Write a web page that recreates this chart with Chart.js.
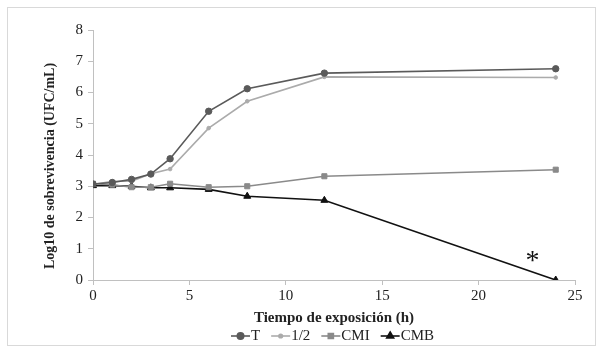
<!DOCTYPE html>
<html><head><meta charset="utf-8">
<script src="https://cdn.jsdelivr.net/npm/chart.js@4/dist/chart.umd.min.js"></script>
<style>html,body{margin:0;padding:0;background:#fff}#wrap{width:604px;height:355px}</style>
</head><body><div id="wrap"><canvas id="c" width="604" height="355"></canvas></div>
<script>
const hours = [0, 1, 2, 3, 4, 6, 8, 12, 24];
const seriesT   = [3.07, 3.12, 3.22, 3.39, 3.88, 5.40, 6.12, 6.62, 6.76];
const seriesHalf= [3.05, 3.16, 3.16, 3.40, 3.55, 4.86, 5.72, 6.50, 6.48];
const seriesCMI = [3.08, 3.05, 2.97, 2.97, 3.08, 2.97, 3.00, 3.32, 3.53];
const seriesCMB = [3.02, 3.02, 3.00, 2.95, 2.95, 2.90, 2.68, 2.55, 0.00];
const seriesNames = ['T', '1/2', 'CMI', 'CMB'];
const xTicks = [0, 5, 10, 15, 20, 25];
const yTicks = [0, 1, 2, 3, 4, 5, 6, 7, 8];
const asterisk = {x: 22.8, y: 0.72, text: '*'};
const yTitle = 'Log10 de sobrevivencia (UFC/mL)';

const FONT = "'Liberation Serif', 'Times New Roman', serif";
const styles = [
  {color:'#5a5a5a', point:'circle', r:3.2},
  {color:'#ababab', point:'circle', r:1.8},
  {color:'#8a8a8a', point:'rect', r:3.6},
  {color:'#111111', point:'triangle', r:4}
];
const values = [seriesT, seriesHalf, seriesCMI, seriesCMB];

const datasets = values.map((v,i)=>({
  label: seriesNames[i],
  data: hours.map((h,j)=>({x:h, y:v[j]})),
  borderColor: styles[i].color,
  backgroundColor: styles[i].color,
  pointStyle: styles[i].point,
  pointRadius: styles[i].r,
  pointBorderWidth: 1,
  borderWidth: 1.6,
  tension: 0
}));

const frame = {
  id:'frame',
  beforeDraw(chart){
    const ctx = chart.ctx;
    ctx.save();
    ctx.fillStyle='#fff';
    ctx.fillRect(0,0,chart.width,chart.height);
    ctx.strokeStyle='#d9d9d9';
    ctx.lineWidth=1;
    ctx.strokeRect(7.5,7.5,588,338);
    ctx.restore();
  },
  afterDraw(chart){
    const ctx = chart.ctx;
    const xs = chart.scales.x, ys = chart.scales.y;
    ctx.save();
    // y axis title
    ctx.fillStyle='#222';
    ctx.font = "bold 14px " + FONT;
    ctx.textAlign='center'; ctx.textBaseline='middle';
    ctx.translate(50, 166);
    ctx.rotate(-Math.PI/2);
    ctx.fillText(yTitle, 0, 0);
    ctx.restore();
    ctx.save();
    // asterisk
    ctx.fillStyle='#111';
    ctx.font = "28px " + FONT;
    ctx.textAlign='center'; ctx.textBaseline='middle';
    ctx.fillText(asterisk.text, xs.getPixelForValue(asterisk.x), ys.getPixelForValue(asterisk.y)+4);
    // legend
    ctx.font = "15px " + FONT;
    ctx.textAlign='left'; ctx.textBaseline='middle';
    const ly = 336;
    let x = 231;
    seriesNames.forEach((name,i)=>{
      const st = styles[i];
      ctx.strokeStyle = st.color; ctx.fillStyle = st.color; ctx.lineWidth=1.6;
      ctx.beginPath(); ctx.moveTo(x, ly); ctx.lineTo(x+19, ly); ctx.stroke();
      Chart.helpers.drawPoint(ctx, {pointStyle: st.point, radius: st.r, borderWidth:1}, x+9.5, ly);
      ctx.fillStyle = '#222';
      ctx.fillText(name, x+20, ly);
      x += 20 + ctx.measureText(name).width + 11;
    });
    ctx.restore();
  }
};

new Chart(document.getElementById('c'), {
  type:'line',
  data:{datasets},
  plugins:[frame],
  options:{
    responsive:false,
    animation:false,
    layout:{padding:{left:0, right:29, top:30, bottom:0}},
    plugins:{legend:{display:false}, tooltip:{enabled:false}},
    scales:{
      x:{
        type:'linear', min:0, max:25,
        afterBuildTicks(s){ s.ticks = xTicks.map(v=>({value:v})); },
        afterFit(s){ s.height = 75; },
        border:{color:'#c0c0c0', width:1},
        grid:{drawOnChartArea:false, drawTicks:true, tickLength:5, color:'#c0c0c0'},
        ticks:{color:'#222', font:{family:FONT, size:15}, padding:2, maxRotation:0},
        title:{display:true, text:'Tiempo de exposición (h)', color:'#222', font:{family:FONT, size:15, weight:'bold'}, padding:{top:0, bottom:28}}
      },
      y:{
        type:'linear', min:0, max:8,
        afterBuildTicks(s){ s.ticks = yTicks.map(v=>({value:v})); },
        afterFit(s){ s.width = 93; },
        border:{color:'#c0c0c0', width:1},
        grid:{drawOnChartArea:false, drawTicks:true, tickLength:5, color:'#c0c0c0'},
        ticks:{color:'#222', font:{family:FONT, size:15}, padding:5},
        title:{display:false}
      }
    }
  }
});
</script>
</body></html>
